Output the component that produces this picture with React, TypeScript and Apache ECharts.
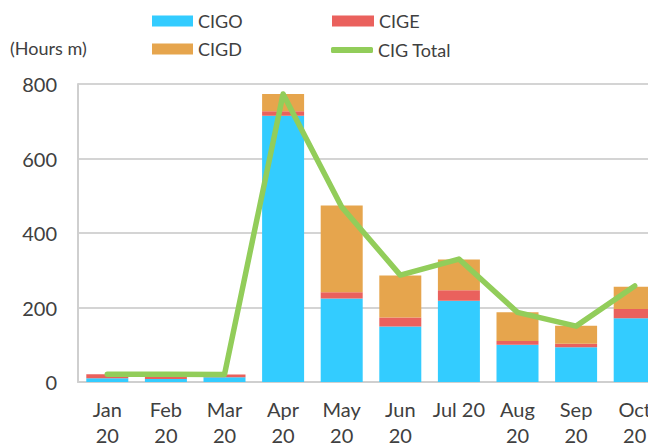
import React, { useEffect, useRef } from "react";
import * as echarts from "echarts";

const categories = ["Jan\n20", "Feb\n20", "Mar\n20", "Apr\n20", "May\n20", "Jun\n20", "Jul 20", "Aug\n20", "Sep\n20", "Oct\n20"];
const cigo = [10, 8, 13, 715, 224, 149, 218, 100, 93, 171];
const cige = [11, 12, 7, 12, 17, 24, 28, 10, 10, 25];
const cigd = [0, 0, 0, 46, 233, 113, 83, 77, 48, 60];
const cigTotal = [21, 21, 20, 773, 470, 287, 330, 187, 150, 258];

const TEXT = "#404040";
const FONT = "Lato, 'Noto Sans', sans-serif";

export default function App() {
  const ref = useRef<HTMLDivElement>(null);
  useEffect(() => {
    if (!ref.current) return;
    const chart = echarts.init(ref.current, undefined, { renderer: "svg" });
    const legendText = { fontSize: 18, color: TEXT, fontFamily: FONT };
    const mkLegend = (name: string, left: number, top: number, w: number, h: number, icon: string) => ({
      data: [name],
      left,
      top,
      padding: 0,
      itemWidth: w,
      itemHeight: h,
      icon,
      selectedMode: false,
      textStyle: legendText,
    });
    chart.setOption({
      animation: false,
      textStyle: { fontFamily: FONT },
      grid: { left: 78, top: 84, bottom: 61, right: -16, containLabel: false, outerBoundsMode: "none" },
      legend: [
        mkLegend("CIGO", 152, 12, 41, 11, "rect"),
        mkLegend("CIGE", 332, 12, 42, 11, "rect"),
        mkLegend("CIGD", 152, 40, 41, 11, "rect"),
        mkLegend("CIG Total", 331, 41, 42, 6, "roundRect"),
      ],
      graphic: [
        {
          type: "text",
          left: 10,
          top: 39,
          style: { text: "(Hours m)", fontSize: 18, fill: TEXT, fontFamily: FONT },
        },
      ],
      xAxis: {
        type: "category",
        data: categories,
        axisLine: { lineStyle: { color: "#CFCFCF", width: 2 } },
        axisTick: { show: false },
        axisLabel: { fontSize: 20, color: TEXT, lineHeight: 26, margin: 14, interval: 0, fontFamily: FONT },
      },
      yAxis: {
        type: "value",
        min: 0,
        max: 800,
        interval: 200,
        axisLine: { show: true, lineStyle: { color: "#CFCFCF", width: 2 } },
        axisTick: { show: false },
        splitLine: { lineStyle: { color: "#D4D4D4", width: 2 } },
        axisLabel: { fontSize: 20, color: TEXT, margin: 21, fontFamily: FONT },
      },
      series: [
        { name: "CIGO", type: "bar", stack: "a", data: cigo, barWidth: 42, itemStyle: { color: "#33CCFF" } },
        { name: "CIGE", type: "bar", stack: "a", data: cige, barWidth: 42, itemStyle: { color: "#EA615D" } },
        { name: "CIGD", type: "bar", stack: "a", data: cigd, barWidth: 42, itemStyle: { color: "#E6A54D" } },
        {
          name: "CIG Total",
          type: "line",
          data: cigTotal,
          symbol: "none",
          z: 5,
          itemStyle: { color: "#92CD5A" },
          lineStyle: { color: "#92CD5A", width: 5.5, cap: "round", join: "round" },
        },
      ],
    });
    return () => chart.dispose();
  }, []);
  return (
    <div style={{ position: "fixed", left: 0, top: 0, width: 648, height: 443, overflow: "hidden", background: "#fff" }}>
      <div ref={ref} style={{ width: 648, height: 443 }} />
    </div>
  );
}
